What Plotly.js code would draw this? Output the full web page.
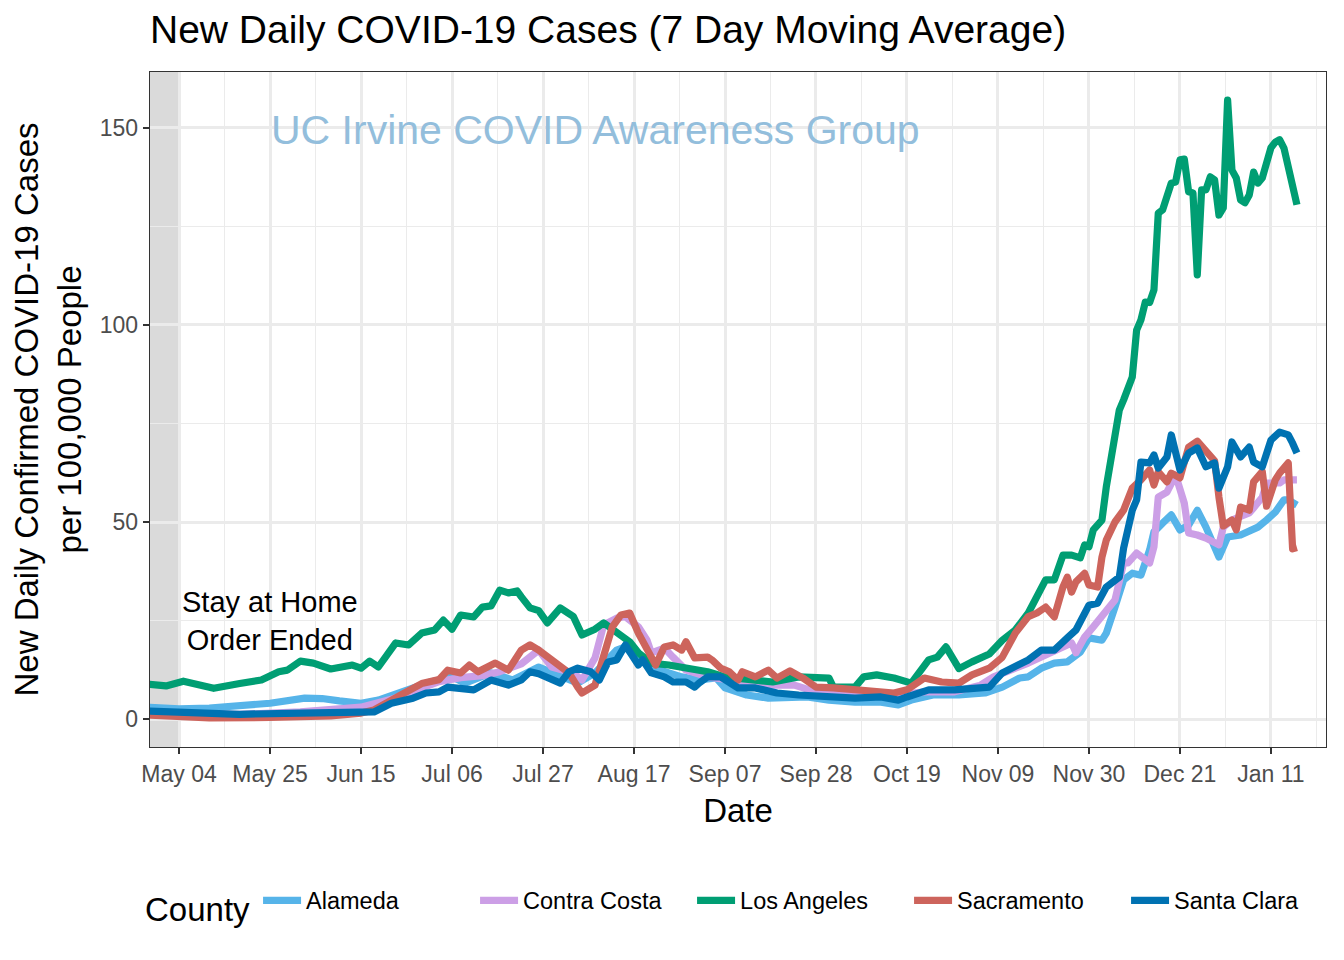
<!DOCTYPE html>
<html>
<head>
<meta charset="utf-8">
<script src="https://cdn.plot.ly/plotly-3.0.1.min.js"></script>
<style>html,body{margin:0;padding:0;background:#fff;}#chart{width:1344px;height:960px;}
#chart .scatterlayer .js-line{stroke-linejoin:round;}</style>
</head>
<body>
<div id="chart"></div>
<script>
// ---------------- DATA ----------------
const counties = ['Alameda', 'Contra Costa', 'Los Angeles', 'Sacramento', 'Santa Clara'];

const alamedaDates = ['2020-04-27','2020-05-04','2020-05-11','2020-05-18','2020-05-25','2020-06-02','2020-06-06','2020-06-10','2020-06-15','2020-06-19','2020-06-26','2020-07-01','2020-07-06','2020-07-09','2020-07-15','2020-07-20','2020-07-26','2020-07-31','2020-08-04','2020-08-08','2020-08-13','2020-08-15','2020-08-18','2020-08-23','2020-08-28','2020-09-01','2020-09-05','2020-09-07','2020-09-12','2020-09-17','2020-09-21','2020-09-26','2020-10-01','2020-10-07','2020-10-13','2020-10-17','2020-10-20','2020-10-25','2020-10-31','2020-11-06','2020-11-10','2020-11-14','2020-11-16','2020-11-19','2020-11-22','2020-11-25','2020-11-28','2020-11-30','2020-12-03','2020-12-04','2020-12-06','2020-12-08','2020-12-10','2020-12-12','2020-12-14','2020-12-15','2020-12-17','2020-12-19','2020-12-21','2020-12-23','2020-12-25','2020-12-27','2020-12-30','2021-01-01','2021-01-04','2021-01-06','2021-01-08','2021-01-10','2021-01-12','2021-01-14','2021-01-15','2021-01-17'];
const alamedaValues = [3.0,2.6,2.8,3.2,4.0,5.3,5.2,4.6,4.0,4.8,7.4,9.4,10.7,9.1,11.7,9.9,13.2,10.7,9.1,11.7,17.5,18.3,15.0,12.4,10.7,9.9,10.4,7.9,6.1,5.3,5.6,5.6,4.8,4.3,4.3,3.6,4.8,6.1,6.1,6.6,8.1,10.4,10.7,12.9,14.2,14.5,17.0,20.6,20.0,21.8,28.4,35.3,37.0,36.5,42.9,47.5,49.7,51.8,48.0,49.2,53.0,48.7,41.1,46.2,46.7,47.5,48.7,50.5,52.5,55.6,55.6,54.3];

const contraCostaDates = ['2020-04-27','2020-05-04','2020-05-18','2020-06-01','2020-06-15','2020-06-22','2020-06-29','2020-07-03','2020-07-08','2020-07-13','2020-07-17','2020-07-22','2020-07-26','2020-07-29','2020-08-03','2020-08-05','2020-08-08','2020-08-10','2020-08-13','2020-08-15','2020-08-18','2020-08-20','2020-08-21','2020-08-24','2020-08-26','2020-08-29','2020-09-03','2020-09-08','2020-09-12','2020-09-18','2020-09-23','2020-09-28','2020-10-04','2020-10-10','2020-10-17','2020-10-23','2020-10-30','2020-11-05','2020-11-08','2020-11-16','2020-11-20','2020-11-23','2020-11-26','2020-11-27','2020-11-29','2020-12-01','2020-12-03','2020-12-06','2020-12-08','2020-12-09','2020-12-11','2020-12-13','2020-12-14','2020-12-15','2020-12-16','2020-12-18','2020-12-20','2020-12-22','2020-12-23','2020-12-25','2020-12-27','2020-12-30','2020-12-31','2021-01-02','2021-01-06','2021-01-07','2021-01-09','2021-01-10','2021-01-13','2021-01-14','2021-01-17'];
const contraCostaValues = [1.5,1.3,1.2,1.8,3.0,5.0,8.0,9.5,10.5,11.0,12.0,14.0,17.5,13.2,11.7,9.9,15.5,23.9,25.6,26.0,23.4,20.0,16.8,18.0,15.7,12.4,10.7,9.9,8.6,8.6,8.6,6.9,6.6,6.1,6.1,6.9,6.9,8.6,10.7,14.2,16.2,18.0,19.3,16.8,20.8,23.4,26.0,30.2,39.6,39.6,42.1,40.4,39.6,43.7,56.3,57.6,61.9,54.8,47.2,46.7,45.9,44.2,48.7,50.5,52.3,53.6,56.3,59.9,59.9,60.7,60.7];

const losAngelesDates = ['2020-04-27','2020-05-01','2020-05-05','2020-05-08','2020-05-12','2020-05-18','2020-05-23','2020-05-27','2020-05-29','2020-06-01','2020-06-04','2020-06-08','2020-06-13','2020-06-15','2020-06-17','2020-06-19','2020-06-23','2020-06-26','2020-06-29','2020-07-02','2020-07-04','2020-07-06','2020-07-08','2020-07-11','2020-07-13','2020-07-15','2020-07-17','2020-07-19','2020-07-21','2020-07-22','2020-07-24','2020-07-26','2020-07-28','2020-07-31','2020-08-03','2020-08-05','2020-08-08','2020-08-10','2020-08-13','2020-08-16','2020-08-18','2020-08-21','2020-08-25','2020-08-29','2020-09-03','2020-09-07','2020-09-12','2020-09-18','2020-09-24','2020-09-28','2020-10-01','2020-10-02','2020-10-07','2020-10-09','2020-10-12','2020-10-16','2020-10-20','2020-10-24','2020-10-26','2020-10-28','2020-10-31','2020-11-03','2020-11-05','2020-11-07','2020-11-10','2020-11-13','2020-11-16','2020-11-19','2020-11-20','2020-11-22','2020-11-24','2020-11-26','2020-11-28','2020-11-29','2020-11-30','2020-12-01','2020-12-03','2020-12-04','2020-12-06','2020-12-07','2020-12-08','2020-12-10','2020-12-11','2020-12-12','2020-12-13','2020-12-14','2020-12-15','2020-12-16','2020-12-17','2020-12-18','2020-12-19','2020-12-20','2020-12-21','2020-12-22','2020-12-23','2020-12-24','2020-12-25','2020-12-26','2020-12-27','2020-12-28','2020-12-29','2020-12-30','2020-12-31','2021-01-01','2021-01-02','2021-01-03','2021-01-04','2021-01-05','2021-01-06','2021-01-07','2021-01-08','2021-01-09','2021-01-10','2021-01-11','2021-01-12','2021-01-13','2021-01-14','2021-01-17'];
const losAngelesValues = [8.8,8.4,9.6,8.8,7.8,9.0,9.9,12.0,12.4,14.7,14.2,12.7,13.7,12.9,14.7,13.2,19.3,18.8,21.8,22.6,25.1,22.8,26.4,25.9,28.4,28.7,32.7,32.0,32.5,31.0,28.2,27.5,24.4,28.2,26.0,21.3,22.8,24.4,21.8,19.6,16.8,14.2,13.7,12.9,12.0,10.7,9.9,9.4,10.7,10.4,10.4,8.1,8.1,10.7,11.2,10.4,9.1,15.0,15.7,18.3,12.8,14.5,15.5,16.5,20.0,22.6,26.9,32.7,35.3,35.3,41.6,41.6,40.9,44.2,43.7,48.0,50.5,58.9,72.6,78.4,81.0,86.8,98.7,101.3,105.8,105.7,108.9,128.4,129.2,132.5,136.0,136.3,141.9,142.1,133.8,133.5,112.7,134.3,134.3,137.6,136.8,127.9,129.7,157.1,139.3,137.3,131.7,131.0,133.0,138.8,136.0,137.3,142.0,145.0,146.4,147.0,144.9,130.5];

const sacramentoDates = ['2020-04-27','2020-05-04','2020-05-11','2020-05-25','2020-06-08','2020-06-15','2020-06-18','2020-06-24','2020-06-29','2020-07-03','2020-07-05','2020-07-08','2020-07-10','2020-07-12','2020-07-16','2020-07-19','2020-07-22','2020-07-24','2020-07-26','2020-07-29','2020-07-31','2020-08-02','2020-08-04','2020-08-05','2020-08-08','2020-08-10','2020-08-12','2020-08-14','2020-08-16','2020-08-18','2020-08-19','2020-08-21','2020-08-22','2020-08-24','2020-08-26','2020-08-28','2020-08-29','2020-08-31','2020-09-03','2020-09-04','2020-09-06','2020-09-08','2020-09-10','2020-09-11','2020-09-14','2020-09-17','2020-09-19','2020-09-22','2020-09-25','2020-09-28','2020-10-02','2020-10-07','2020-10-11','2020-10-16','2020-10-19','2020-10-23','2020-10-27','2020-10-31','2020-11-03','2020-11-05','2020-11-07','2020-11-10','2020-11-13','2020-11-16','2020-11-18','2020-11-20','2020-11-22','2020-11-24','2020-11-25','2020-11-26','2020-11-27','2020-11-29','2020-11-30','2020-12-02','2020-12-03','2020-12-04','2020-12-06','2020-12-08','2020-12-10','2020-12-12','2020-12-14','2020-12-15','2020-12-16','2020-12-18','2020-12-19','2020-12-21','2020-12-23','2020-12-25','2020-12-27','2020-12-29','2020-12-30','2020-12-31','2021-01-02','2021-01-03','2021-01-04','2021-01-06','2021-01-07','2021-01-09','2021-01-10','2021-01-12','2021-01-13','2021-01-15','2021-01-16','2021-01-17'];
const sacramentoValues = [1.0,0.5,0.3,0.4,0.8,1.5,2.3,6.0,9.0,10.0,12.4,11.7,13.7,12.0,14.2,12.4,17.5,18.8,17.5,15.0,13.2,11.7,8.1,6.6,8.6,16.8,23.4,26.4,26.9,21.8,20.0,15.7,13.7,18.3,18.8,17.5,19.6,15.5,15.7,15.0,12.9,12.0,9.9,12.0,10.7,12.4,10.4,12.2,10.4,8.1,7.9,7.4,7.1,6.6,7.4,10.4,9.4,9.1,11.2,12.0,12.9,15.7,21.8,26.0,26.9,28.4,25.9,33.5,36.0,32.2,34.8,37.0,34.0,33.5,41.1,45.4,50.0,53.0,58.6,60.7,63.2,59.4,62.7,60.2,62.4,61.2,69.0,70.5,68.3,65.5,56.3,49.0,50.5,48.0,53.8,53.0,60.2,62.8,54.0,60.7,62.4,65.0,43.2,43.5];

const santaClaraDates = ['2020-04-27','2020-05-04','2020-05-18','2020-06-01','2020-06-15','2020-06-18','2020-06-22','2020-06-27','2020-06-30','2020-07-03','2020-07-05','2020-07-08','2020-07-11','2020-07-15','2020-07-17','2020-07-19','2020-07-22','2020-07-24','2020-07-26','2020-07-29','2020-07-31','2020-08-02','2020-08-04','2020-08-07','2020-08-09','2020-08-11','2020-08-13','2020-08-15','2020-08-16','2020-08-18','2020-08-19','2020-08-21','2020-08-24','2020-08-26','2020-08-29','2020-08-31','2020-09-01','2020-09-03','2020-09-06','2020-09-08','2020-09-10','2020-09-14','2020-09-19','2020-09-24','2020-09-30','2020-10-07','2020-10-13','2020-10-17','2020-10-19','2020-10-24','2020-10-30','2020-11-05','2020-11-07','2020-11-10','2020-11-13','2020-11-16','2020-11-19','2020-11-22','2020-11-25','2020-11-27','2020-11-30','2020-12-02','2020-12-04','2020-12-07','2020-12-08','2020-12-10','2020-12-11','2020-12-12','2020-12-14','2020-12-15','2020-12-16','2020-12-18','2020-12-19','2020-12-21','2020-12-23','2020-12-25','2020-12-27','2020-12-29','2020-12-30','2021-01-01','2021-01-02','2021-01-04','2021-01-06','2021-01-07','2021-01-09','2021-01-11','2021-01-13','2021-01-15','2021-01-16','2021-01-17'];
const santaClaraValues = [2.0,1.6,1.2,1.5,2.0,1.8,4.0,5.3,6.6,6.9,8.1,7.9,7.4,9.9,9.4,8.6,9.9,12.0,11.5,9.9,9.1,12.0,12.9,12.0,9.9,14.5,15.0,18.8,17.0,13.7,15.0,11.7,10.7,9.4,9.4,8.1,9.1,10.7,10.7,9.4,7.9,7.9,6.6,6.1,5.6,5.3,5.6,4.8,5.6,7.4,7.4,7.9,8.1,11.7,13.2,15.0,17.5,17.5,20.6,22.6,28.9,29.4,33.5,36.0,43.4,53.0,55.6,65.2,65.0,67.0,63.7,66.5,72.1,63.2,67.5,68.8,64.0,65.0,58.6,64.0,70.3,66.5,69.0,65.2,64.0,70.8,72.8,72.1,70.0,67.5];

const seriesDates = [alamedaDates, contraCostaDates, losAngelesDates, sacramentoDates, santaClaraDates];
const seriesValues = [alamedaValues, contraCostaValues, losAngelesValues, sacramentoValues, santaClaraValues];
const seriesColors = ['#56B4E9', '#CC9FE6', '#009E73', '#CD645C', '#0072B2'];

const xRange = ['2020-04-27 07:00', '2021-01-23 17:00'];
const yRange = [-7.1, 164.2];
const firstTick = '2020-05-04';
const stayHomeEnd = '2020-05-04';
const stayHomeLabel = {x: '2020-05-25', y: 25, text: 'Stay at Home<br>Order Ended'};
const watermark = {x: '2020-08-08', y: 149.5, text: 'UC Irvine COVID Awareness Group'};

// ---------------- CHART ----------------
const DAY = 86400000;
const FONT = 'Liberation Sans, Arial, Helvetica, sans-serif';

const traces = counties.map((name, i) => ({
  type: 'scatter',
  mode: 'lines',
  name: name,
  x: seriesDates[i],
  y: seriesValues[i],
  line: {color: seriesColors[i], width: 7.2},
  hoverinfo: 'skip'
}));

const layout = {
  width: 1344,
  height: 960,
  margin: {l: 150, r: 18, t: 72, b: 213},
  paper_bgcolor: '#FFFFFF',
  plot_bgcolor: '#FFFFFF',
  font: {family: FONT, color: '#000000'},
  title: {
    text: 'New Daily COVID-19 Cases (7 Day Moving Average)',
    font: {family: FONT, size: 39, color: '#000000'},
    x: 150 / 1344, xref: 'container', xanchor: 'left',
    y: 1 - 29 / 960, yref: 'container', yanchor: 'middle'
  },
  xaxis: {
    type: 'date',
    range: xRange,
    tickmode: 'linear',
    tick0: firstTick,
    dtick: 21 * DAY,
    tickformat: '%b %d',
    ticks: 'outside',
    ticklen: 6,
    tickwidth: 1.3,
    tickcolor: '#333333',
    tickfont: {family: FONT, size: 23, color: '#4D4D4D'},
    showline: true, mirror: true, linecolor: '#333333', linewidth: 1.3,
    showgrid: true, gridcolor: '#EBEBEB', gridwidth: 3,
    zeroline: false,
    minor: {tick0: firstTick, dtick: 10.5 * DAY, showgrid: true, gridcolor: '#EBEBEB', gridwidth: 1.8, ticks: ''},
    title: {text: 'Date', font: {family: FONT, size: 33, color: '#000000'}, standoff: 13},
    automargin: false,
    fixedrange: true
  },
  yaxis: {
    range: yRange,
    tickmode: 'linear',
    tick0: 0,
    dtick: 50,
    ticks: 'outside',
    ticklen: 6,
    tickwidth: 1.3,
    tickcolor: '#333333',
    tickfont: {family: FONT, size: 23, color: '#4D4D4D'},
    showline: true, mirror: true, linecolor: '#333333', linewidth: 1.3,
    showgrid: true, gridcolor: '#EBEBEB', gridwidth: 3,
    zeroline: false,
    minor: {tick0: 0, dtick: 25, showgrid: true, gridcolor: '#EBEBEB', gridwidth: 1.8, ticks: ''},
    title: {text: 'New Daily Confirmed COVID-19 Cases<br>per 100,000 People', font: {family: FONT, size: 33, color: '#000000'}, standoff: 8},
    automargin: false,
    fixedrange: true
  },
  shapes: [{
    type: 'rect', xref: 'x', yref: 'paper',
    x0: xRange[0], x1: stayHomeEnd, y0: 0, y1: 1,
    fillcolor: '#DADADA', line: {width: 0}, layer: 'between'
  }],
  annotations: [
    {x: stayHomeLabel.x, y: stayHomeLabel.y, xref: 'x', yref: 'y', text: stayHomeLabel.text,
     showarrow: false, font: {family: FONT, size: 29, color: '#000000'}, align: 'center'},
    {x: watermark.x, y: watermark.y, xref: 'x', yref: 'y', text: watermark.text,
     showarrow: false, font: {family: FONT, size: 41, color: '#93BEDC'}}
  ],
  showlegend: true,
  legend: {
    orientation: 'h',
    x: -4 / 1176, xanchor: 'left',
    y: (747 - 905) / 675, yanchor: 'middle',
    title: {text: 'County', font: {family: FONT, size: 33, color: '#000000'}, side: 'left'},
    font: {family: FONT, size: 23.5, color: '#000000'},
    itemwidth: 38,
    entrywidth: 164,
    entrywidthmode: 'pixels',
    valign: 'middle',
    bgcolor: 'rgba(0,0,0,0)'
  }
};

Plotly.newPlot('chart', traces, layout, {staticPlot: true, displayModeBar: false});
</script>
</body>
</html>
